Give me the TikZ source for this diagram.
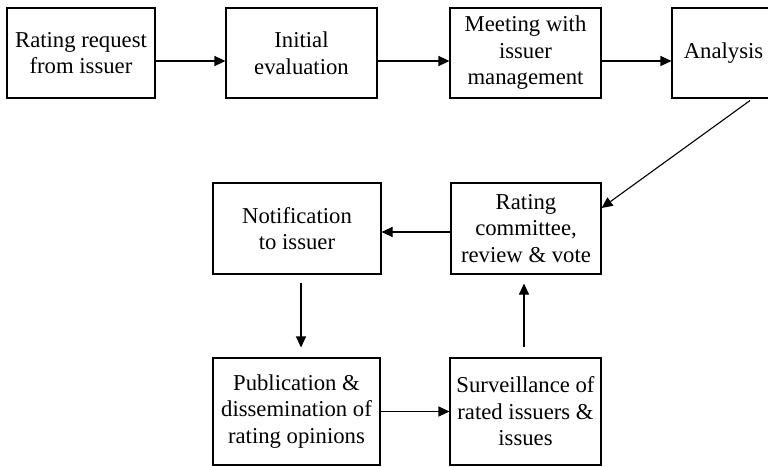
\documentclass[tikz,border=0pt]{standalone}
\usepackage{fontspec}
\setmainfont{Liberation Serif}
\newfontfamily\boxfont{Liberation Serif}
\usetikzlibrary{arrows.meta,calc}
\begin{document}
\begin{tikzpicture}[x=1pt,y=-1pt,
  box/.style={draw, line width=1.1pt, align=center, inner sep=0pt,
    font=\boxfont\fontsize{22.7}{26.5}\selectfont},
  arr/.style={line width=1.1pt, -{Triangle[length=11pt,width=10pt]}}]
\useasboundingbox (0,0) rectangle (768,466);
\clip (0,0) rectangle (768,466);
% top row
\node[box, minimum width=148pt, minimum height=90pt] (req) at (81,53) {Rating request\\from issuer};
\node[box, minimum width=151pt, minimum height=90pt] (init) at (301.5,53) {Initial\\evaluation};
\node[box, minimum width=151pt, minimum height=90pt] (meet) at (525.5,53) {Meeting with\\issuer\\management};
\node[box, minimum width=103pt, minimum height=90pt] (ana) at (723.5,53) {Analysis};
% middle row
\node[box, minimum width=150pt, minimum height=91pt] (com) at (526,228.5) {Rating\\committee,\\review \& vote};
\node[box, minimum width=168pt, minimum height=91pt] (note) at (297,228.5) {Notification\\to issuer};
% bottom row
\node[box, minimum width=167pt, minimum height=107pt] (pub) at (296.5,411.5) {Publication \&\\dissemination of\\rating opinions};
\node[box, minimum width=151pt, minimum height=107pt] (surv) at (525.5,411.5) {Surveillance of\\rated issuers \&\\issues};
% connectors
\draw[arr] ([yshift=-8pt]req.east) -- ([yshift=-8pt]init.west);
\draw[arr] ([yshift=-8pt]init.east) -- ([yshift=-8pt]meet.west);
\draw[arr] ([yshift=-8pt]meet.east) -- ([yshift=-8pt]ana.west);
\draw[arr] ([xshift=26.5pt,yshift=-2pt]ana.south) -- ([yshift=20.5pt]com.east);
\draw[arr] ([yshift=-3.5pt]com.west) -- ([yshift=-3.5pt]note.east);
\draw[arr, shorten <=8pt, shorten >=10pt] ([xshift=4pt]note.south) -- ([xshift=4.5pt]pub.north);
\draw[arr] (pub.east) -- (surv.west);
\draw[arr, shorten <=10pt, shorten >=9pt] ([xshift=-1.5pt]surv.north) -- ([xshift=-2pt]com.south);
\end{tikzpicture}
\end{document}
